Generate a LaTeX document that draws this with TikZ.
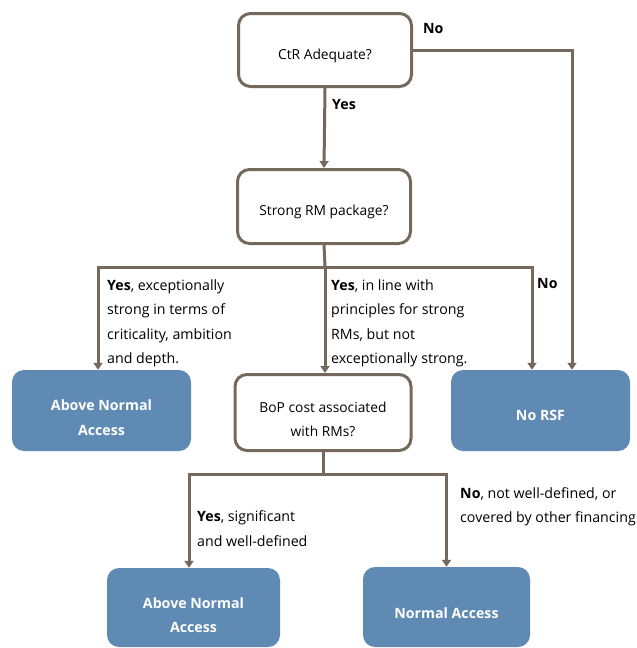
\documentclass[tikz,border=0pt]{standalone}
\usepackage{fontspec}
\setmainfont{Open Sans}
\usetikzlibrary{arrows.meta}
\definecolor{edge}{HTML}{75695E}
\definecolor{boxblue}{HTML}{5E8AB4}
\newcommand{\dn}[2][4.5pt]{\raisebox{-#1}[\height][\depth]{\begin{tabular}{@{}c@{}}#2\end{tabular}}}
\tikzset{
  qbox/.style={draw=edge, line width=3pt, rounded corners=12pt, fill=white, font=\fontsize{13.8}{24.5}\selectfont, text=black},
  obox/.style={draw=none, rounded corners=12pt, fill=boxblue, font=\fontsize{14.2}{24.5}\selectfont\bfseries, text=white},
  conn/.style={draw=edge, line width=3pt},
  arr/.style={conn, -{Triangle[width=9pt,length=7pt]}},
  lbl/.style={align=left, anchor=north west, inner sep=0pt, font=\fontsize{14.2}{24.5}\selectfont, text=black},
  blbl/.style={anchor=north west, inner sep=0pt, font=\fontsize{14.2}{17}\selectfont\bfseries, text=black},
}
\begin{document}
\begin{tikzpicture}[x=1pt,y=-1pt]
\useasboundingbox (0,0) rectangle (637,648);
\node[qbox, minimum width=173pt, minimum height=73pt] (ctr) at (325,50) {\dn{CtR Adequate?}};
\node[qbox, minimum width=173pt, minimum height=74pt] (srm) at (324,206.5) {\dn{Strong RM package?}};
\node[obox, minimum width=179pt, minimum height=81pt] (anaL) at (101.5,410.5) {\dn[7.5pt]{Above Normal\\Access}};
\node[qbox, minimum width=176pt, minimum height=76pt] (bop) at (323,412.5) {\dn[7pt]{BoP cost associated\\with RMs?}};
\node[obox, minimum width=179pt, minimum height=81pt] (norsf) at (540.5,410.5) {\dn[5pt]{No RSF}};
\node[obox, minimum width=173pt, minimum height=79pt] (anaB) at (193.5,607.5) {\dn[8pt]{Above Normal\\Access}};
\node[obox, minimum width=167pt, minimum height=80pt] (na) at (446.5,607) {\dn[6.5pt]{Normal Access}};

\coordinate (j1) at (325,267);
\coordinate (j2) at (323,474);

\draw[arr] (ctr.south) -- (srm.north);
\draw[arr] (ctr.east) -| ([xshift=31.5pt]norsf.north);
\draw[conn] (srm.south) -- (j1);
\draw[arr] (j1) -| ([xshift=-3.5pt]anaL.north);
\draw[arr] (j1) -| ([xshift=-8.5pt]norsf.north);
\draw[arr] (j1) -- (j1 |- bop.north);
\draw[conn] (bop.south) -- (j2);
\draw[arr] (j2) -| ([xshift=-4.5pt]anaB.north);
\draw[arr] (j2) -| (na.north);

\node[blbl] (lyes1) at (332,99) {Yes};
\node[blbl] (lno1) at (423,23) {No};
\node[lbl] (l1) at (107,279.5) {\textbf{Yes}, exceptionally\\strong in terms of\\criticality, ambition\\and depth.};
\node[lbl] (l2) at (331,279.5) {\textbf{Yes}, in line with\\principles for strong\\RMs, but not\\exceptionally strong.};
\node[blbl] (lno2) at (537,278) {No};
\node[lbl] (l3) at (197,510.5) {\textbf{Yes}, significant\\and well-defined};
\node[lbl] (l4) at (460,487) {\textbf{No}, not well-defined, or\\covered by other financing};
\end{tikzpicture}
\end{document}
